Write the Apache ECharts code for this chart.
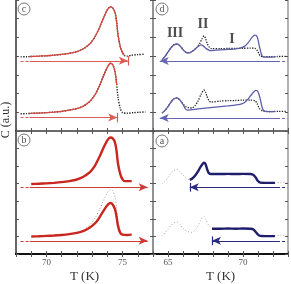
<!DOCTYPE html>
<html><head><meta charset="utf-8">
<script src="https://cdn.jsdelivr.net/npm/echarts@6/dist/echarts.min.js"></script>
<style>html,body{margin:0;padding:0;background:#fff}#c{width:291px;height:284px}</style>
</head><body><div id="c"></div>
<script>
// ---- Panel (c): top-left ----
const cUpperDots = [[68.3,3.96],[68.7,3.97],[69,3.98],[69.5,4.0],[70,4.02],[70.5,4.05],[71,4.09],[71.5,4.15],[72,4.24],[72.4,4.38],[72.7,4.55],[72.9,4.7],[73.2,5.05],[73.5,5.56],[73.75,6.05],[74.0,6.47],[74.2,6.63],[74.35,6.58],[74.5,6.35],[74.6,5.9],[74.7,5.15],[74.85,4.5],[75.0,4.18],[75.15,4.02],[75.3,4.0],[75.6,4.05],[76.0,4.08],[76.4,4.1]];
const cUpperFit = [[68.9,3.98],[69.5,4.0],[70,4.02],[70.5,4.05],[71,4.09],[71.5,4.15],[72,4.24],[72.4,4.38],[72.7,4.55],[72.9,4.7],[73.2,5.05],[73.5,5.56],[73.75,6.05],[74.0,6.47],[74.2,6.63],[74.35,6.58],[74.5,6.35],[74.6,5.9],[74.7,5.15],[74.85,4.5],[75.0,4.18],[75.1,4.05]];
const cLowerDots = [[68.3,0.92],[68.7,0.93],[69,0.94],[69.5,0.96],[70,0.98],[70.5,1.01],[71,1.05],[71.5,1.12],[72,1.2],[72.4,1.32],[72.7,1.48],[72.9,1.62],[73.2,1.95],[73.5,2.45],[73.75,2.95],[74.0,3.4],[74.2,3.62],[74.35,3.55],[74.5,3.2],[74.6,2.6],[74.7,1.8],[74.85,1.2],[75.0,0.98],[75.3,0.95],[75.7,0.98],[76.1,1.0],[76.5,1.02]];
const cLowerFit = [[68.9,0.94],[69.5,0.96],[70,0.98],[70.5,1.01],[71,1.05],[71.5,1.12],[72,1.2],[72.4,1.32],[72.7,1.48],[72.9,1.62],[73.2,1.95],[73.5,2.45],[73.75,2.95],[74.0,3.4],[74.2,3.62],[74.35,3.55],[74.5,3.2],[74.62,2.45]];
// ---- Panel (b): bottom-left ----
const bUpperData = [[69.0,3.98],[69.5,4.0],[70,4.02],[70.5,4.05],[71,4.09],[71.5,4.15],[72,4.24],[72.4,4.38],[72.7,4.55],[72.9,4.7],[73.2,5.05],[73.5,5.56],[73.75,6.05],[74.0,6.47],[74.2,6.63],[74.35,6.58],[74.5,6.35],[74.6,5.9],[74.7,5.15],[74.85,4.55],[75.0,4.25],[75.15,4.15],[75.6,4.15]];
const bLowerData = [[69.0,1.0],[69.5,1.01],[70,1.03],[70.5,1.05],[71,1.08],[71.5,1.13],[72,1.2],[72.4,1.3],[72.7,1.42],[73.0,1.6],[73.3,1.85],[73.6,2.25],[73.85,2.6],[74.05,2.82],[74.2,2.9],[74.35,2.82],[74.5,2.55],[74.6,2.15],[74.7,1.6],[74.85,1.2],[75.0,1.1],[75.3,1.08],[75.6,1.1]];
const bLowerRef = [[72.6,1.5],[72.9,1.7],[73.2,2.05],[73.5,2.55],[73.75,3.05],[74.0,3.48],[74.2,3.68],[74.35,3.6],[74.5,3.25],[74.6,2.7],[74.7,1.9],[74.85,1.3],[75.0,1.1]];
// ---- Panel (d): top-right ----
const dUpperDots = [[64.6,3.8],[64.8,3.98],[65.0,4.22],[65.2,4.45],[65.4,4.6],[65.6,4.65],[65.8,4.55],[66.0,4.35],[66.2,4.2],[66.35,4.17],[66.5,4.2],[66.7,4.3],[66.9,4.45],[67.1,4.65],[67.25,4.9],[67.4,5.08],[67.5,4.95],[67.6,4.7],[67.75,4.48],[67.9,4.4],[68.5,4.4],[69.0,4.41],[69.5,4.42],[70.0,4.42],[70.5,4.43],[70.8,4.42],[70.95,4.3],[71.05,4.15],[71.15,4.02],[71.3,3.97],[71.8,3.97],[72.3,3.98],[72.93,3.99]];
const dUpperLine = [[64.6,3.8],[64.8,3.98],[65.0,4.22],[65.2,4.45],[65.4,4.6],[65.6,4.65],[65.8,4.55],[66.0,4.35],[66.2,4.2],[66.35,4.17],[66.5,4.2],[66.7,4.3],[66.9,4.45],[67.1,4.57],[67.2,4.6],[67.35,4.55],[67.55,4.4],[67.8,4.3],[68.2,4.32],[68.8,4.35],[69.4,4.38],[69.8,4.43],[70.1,4.52],[70.35,4.72],[70.6,5.0],[70.8,5.12],[70.95,5.02],[71.1,4.5],[71.25,4.05],[71.4,3.95],[71.8,3.95],[72.15,3.96]];
const dLowerDots = [[64.6,0.96],[64.8,1.1],[65.0,1.3],[65.2,1.55],[65.4,1.72],[65.6,1.77],[65.8,1.65],[66.0,1.45],[66.2,1.3],[66.4,1.24],[66.6,1.23],[66.8,1.35],[67.0,1.6],[67.2,1.95],[67.4,2.19],[67.5,2.1],[67.6,1.85],[67.75,1.6],[67.9,1.55],[68.5,1.6],[69.0,1.62],[69.5,1.63],[70.0,1.65],[70.5,1.65],[70.8,1.62],[70.95,1.45],[71.1,1.2],[71.3,1.08],[71.8,1.04],[72.4,1.05],[72.93,1.05]];
const dLowerLine = [[64.6,0.96],[64.8,1.1],[65.0,1.3],[65.2,1.55],[65.4,1.72],[65.6,1.77],[65.8,1.65],[66.0,1.42],[66.15,1.2],[66.3,1.12],[67.0,1.18],[68.0,1.26],[69.0,1.34],[69.8,1.42],[70.1,1.52],[70.35,1.72],[70.6,1.98],[70.85,2.17],[71.0,2.1],[71.15,1.7],[71.3,1.2],[71.45,1.05],[71.8,1.03],[72.15,1.03]];
const peakLabels = [["III",65.47,5.24],["II",67.33,5.67],["I",69.27,4.92]];
// ---- Panel (a): bottom-right ----
const aUpperRef = [[64.6,4.0],[64.8,4.15],[65.0,4.35],[65.2,4.6],[65.4,4.75],[65.6,4.81],[65.8,4.7],[66.0,4.5],[66.2,4.32],[66.45,4.22]];
const aUpperRefTail = [[72.1,4.06],[72.5,4.07],[72.93,4.08]];
const aUpperData = [[66.45,4.22],[66.6,4.28],[66.8,4.45],[67.0,4.7],[67.2,5.0],[67.4,5.19],[67.5,5.12],[67.6,4.85],[67.7,4.62],[67.85,4.55],[68.5,4.55],[69.0,4.56],[69.5,4.55],[70.0,4.56],[70.5,4.55],[70.7,4.5],[70.85,4.35],[71.0,4.15],[71.15,4.06],[71.5,4.05],[72.13,4.05]];
const aLowerRef = [[64.6,1.02],[64.8,1.2],[65.0,1.4],[65.2,1.62],[65.4,1.78],[65.6,1.82],[65.8,1.68],[66.0,1.45],[66.3,1.28],[66.6,1.23],[66.8,1.35],[67.0,1.6],[67.2,1.95],[67.4,2.14],[67.55,1.95],[67.7,1.65],[67.93,1.44]];
const aLowerRefTail = [[72.1,1.05],[72.5,1.06],[72.93,1.07]];
const aLowerData = [[67.93,1.44],[68.5,1.44],[69.0,1.45],[69.5,1.44],[70.0,1.45],[70.5,1.44],[70.7,1.4],[70.85,1.25],[71.0,1.1],[71.15,1.03],[71.5,1.02],[72.13,1.02]];
// ---- Arrows (temperature sweeps): y level, solid span, dashed span, head side, wall ----
const cArrows = [{y:3.75,s:[68.9,75.35],d:[68.3,68.9],head:'end',bar:75.38},{y:0.72,s:[68.9,74.65],d:[68.3,68.9],head:'end',bar:74.68}];
const bArrows = [{y:3.8,s:[68.9,76.65],d:[68.3,68.9],head:'end',bar:null},{y:0.75,s:[68.9,76.65],d:[68.3,68.9],head:'end',bar:null}];
const dArrows = [{y:3.74,s:[64.45,72.27],d:[72.27,72.95],head:'start',bar:null},{y:0.7,s:[64.45,72.27],d:[72.27,72.95],head:'start',bar:null}];
const aArrows = [{y:3.8,s:[66.45,72.27],d:[72.27,72.95],head:'start',bar:66.45},{y:0.75,s:[67.93,72.27],d:[72.27,72.95],head:'start',bar:67.93}];
const leftTicks = [70,75];
const rightTicks = [65,70];

const SERIF = '"Liberation Serif","DejaVu Serif",serif';
const grids = [
  {left:16, top:0, width:137, height:131},
  {left:153, top:0, width:135, height:131},
  {left:16, top:131, width:137, height:131},
  {left:153, top:131, width:135, height:131}
];
const xr = [[68,77],[64,73],[68,77],[64,73]];
const xAxes = [], yAxes = [];
const tickStyle = {show:true, inside:true, length:3, lineStyle:{color:'#555', width:1}};
grids.forEach((g,i)=>{
  const bottomPanel = i>=2;
  const lbl = (i===2)?leftTicks:(i===3?rightTicks:[]);
  xAxes.push({gridIndex:i, type:'value', position:'bottom', min:xr[i][0], max:xr[i][1], interval:1,
    axisLine:{show:true, lineStyle:{color:'#111', width:2}}, axisTick:tickStyle, splitLine:{show:false},
    axisLabel:{show:bottomPanel, interval:0, margin:4, fontFamily:SERIF, fontSize:9, color:'#555', formatter:v=>lbl.includes(v)?String(v):''},
    name: bottomPanel?'T (K)':'', nameLocation:'middle', nameGap:16, nameTextStyle:{fontFamily:SERIF, fontSize:13, color:'#333'}});
  xAxes.push({gridIndex:i, type:'value', position:'top', min:xr[i][0], max:xr[i][1], interval:1,
    axisLine:{show:true, lineStyle:{color: bottomPanel?'#111':'#888', width: bottomPanel?2:1.5}}, axisTick:tickStyle, axisLabel:{show:false}, splitLine:{show:false}});
  const left = (i%2===0);
  yAxes.push({gridIndex:i, type:'value', position:'left', min:0, max:7, interval:1,
    axisLine:{show:true, lineStyle:{color: left?'#666':'#888', width: left?2:1.5}}, axisTick:tickStyle, axisLabel:{show:false}, splitLine:{show:false}});
  yAxes.push({gridIndex:i, type:'value', position:'right', min:0, max:7, interval:1,
    axisLine:{show:true, lineStyle:{color:'#999', width:1.5}}, axisTick:tickStyle, axisLabel:{show:false}, splitLine:{show:false}});
});

function line(gi, data, color, width, type, z){
  return {type:'line', xAxisIndex:2*gi, yAxisIndex:2*gi, data, showSymbol:false, symbol:'none', smooth:0.25,
    silent:true, z:z||2, lineStyle:{color, width, type:type||'solid'}};
}
function arrows(gi, arr, color){
  const md = [];
  arr.forEach(a=>{
    md.push([{coord:[a.s[0],a.y], symbol:a.head==='start'?'arrow':'none', lineStyle:{color,width:1.2,type:'solid'}},
             {coord:[a.s[1],a.y], symbol:a.head==='end'?'arrow':'none', lineStyle:{color,width:1.2,type:'solid'}}]);
    md.push([{coord:[a.d[0],a.y], symbol:'none', lineStyle:{color,width:1.2,type:[3,2]}},
             {coord:[a.d[1],a.y], symbol:'none', lineStyle:{color,width:1.2,type:[3,2]}}]);
    if(a.bar!==null) md.push([{coord:[a.bar,a.y-0.25], symbol:'none', lineStyle:{color,width:1.2,type:'solid'}},
             {coord:[a.bar,a.y+0.25], symbol:'none', lineStyle:{color,width:1.2,type:'solid'}}]);
  });
  return {type:'line', xAxisIndex:2*gi, yAxisIndex:2*gi, data:[], silent:true, z:3,
    markLine:{silent:true, symbol:['none','none'], symbolSize:[6,9], label:{show:false}, animation:false,
      emphasis:{disabled:true}, data:md}};
}
const DOT = [1.3,1.3];
const series = [
  line(0, cUpperDots, '#222', 1.4, DOT, 2), line(0, cUpperFit, '#d9463e', 1.3, 'solid', 3),
  line(0, cLowerDots, '#222', 1.4, DOT, 2), line(0, cLowerFit, '#d9463e', 1.3, 'solid', 3),
  arrows(0, cArrows, '#dc5a52'),
  line(2, bLowerRef, '#999', 1, [1,2], 2),
  line(2, bUpperData, '#c8261e', 2.4, 'solid', 3), line(2, bLowerData, '#c8261e', 2.4, 'solid', 3),
  arrows(2, bArrows, '#cc3a32'),
  line(1, dUpperDots, '#222', 1.3, DOT, 2), line(1, dUpperLine, '#5d5daa', 1.3, 'solid', 3),
  line(1, dLowerDots, '#222', 1.3, DOT, 2), line(1, dLowerLine, '#5d5daa', 1.3, 'solid', 3),
  arrows(1, dArrows, '#6565b3'),
  {type:'scatter', xAxisIndex:2, yAxisIndex:2, symbolSize:0, silent:true, z:5,
    data: peakLabels.map(p=>({value:[p[1],p[2]], name:p[0]})),
    label:{show:true, position:'inside', formatter:p=>p.name, fontFamily:SERIF, fontWeight:'bold', fontSize:14, color:'#222'}},
  line(3, aUpperRef, '#aaa', 1, [1,2], 2), line(3, aUpperRefTail, '#aaa', 1, [1,2], 2),
  line(3, aLowerRef, '#aaa', 1, [1,2], 2), line(3, aLowerRefTail, '#aaa', 1, [1,2], 2),
  line(3, aUpperData, '#1e1e6c', 2.4, 'solid', 3), line(3, aLowerData, '#1e1e6c', 2.4, 'solid', 3),
  arrows(3, aArrows, '#2a2a82')
];

function circled(letter, x, y){
  return {type:'group', x, y, children:[
    {type:'circle', shape:{cx:0, cy:0, r:6}, style:{fill:'#fff', stroke:'#777', lineWidth:1}},
    {type:'text', x:0, y:0, style:{text:letter, font:'10px '+SERIF, fill:'#555', align:'center', verticalAlign:'middle'}}
  ]};
}
const chart = echarts.init(document.getElementById('c'), null, {renderer:'canvas'});
chart.setOption({
  animation:false,
  grid: grids.map(g=>Object.assign({containLabel:false}, g)),
  xAxis: xAxes, yAxis: yAxes, series,
  graphic:[
    circled('c', 24, 9), circled('d', 162, 9), circled('b', 24, 140), circled('a', 162, 141),
    {type:'text', x:6, y:120, rotation:Math.PI/2, style:{text:'C (a.u.)', font:'12px '+SERIF, fill:'#333', align:'center', verticalAlign:'middle'}}
  ]
});
</script></body></html>
